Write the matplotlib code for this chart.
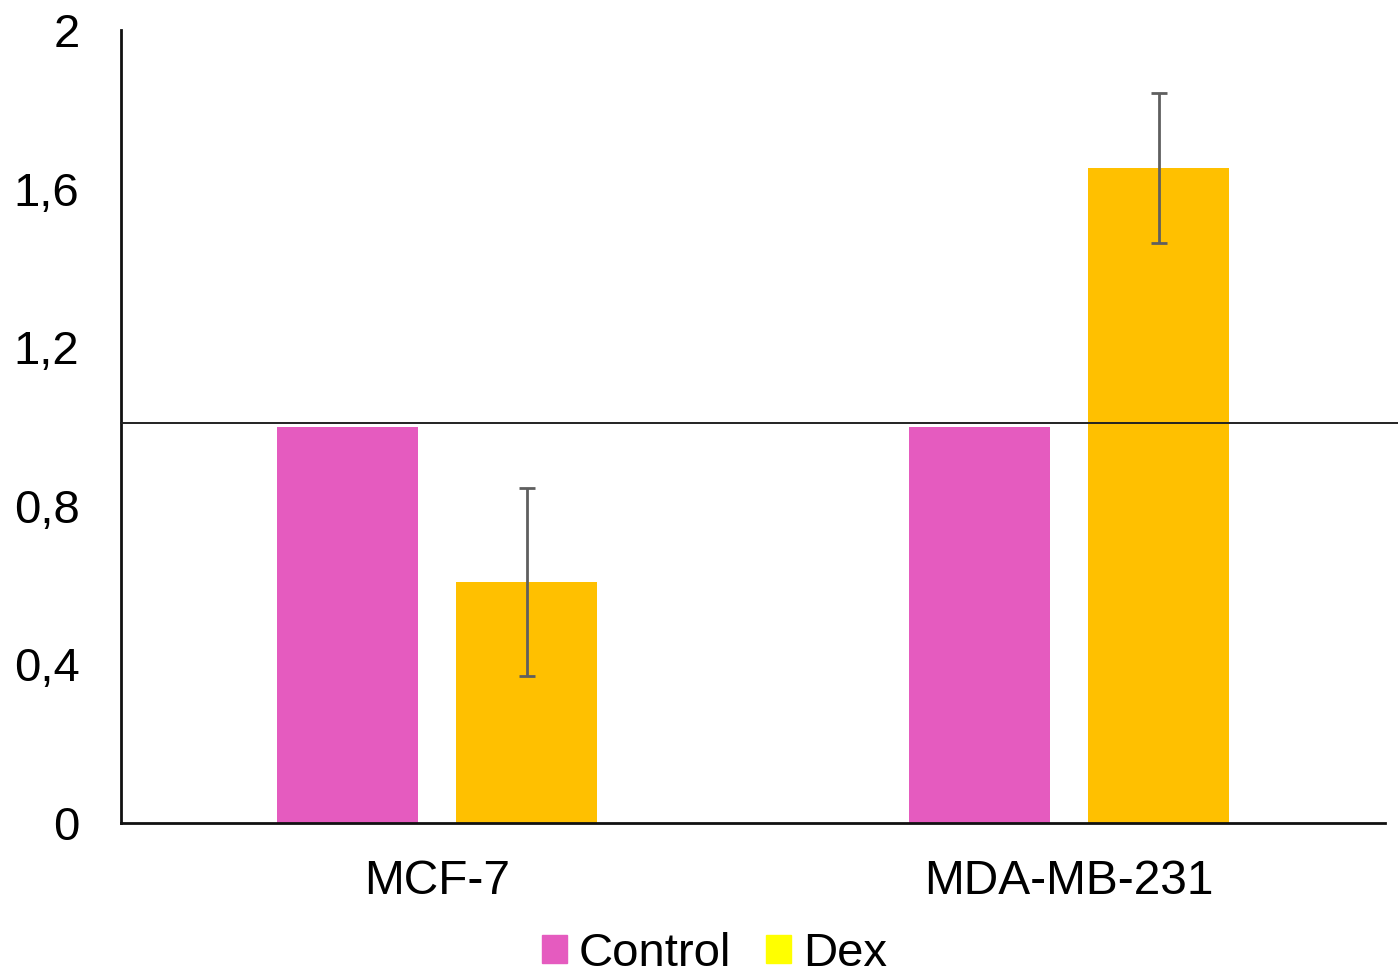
import numpy as np
import matplotlib
matplotlib.use("Agg")
import matplotlib.pyplot as plt
from matplotlib.patches import Patch
import matplotlib.transforms as mtransforms

plt.rcParams['font.family'] = ['Liberation Sans', 'DejaVu Sans']

cell_lines = ["MCF-7", "MDA-MB-231"]
control = [1.0, 1.0]
dex = [0.608, 1.652]
dex_err = [0.237, 0.19]
ref_level = 1.01
y_ticks = [0, 0.4, 0.8, 1.2, 1.6, 2.0]
y_tick_labels = ["0", "0,4", "0,8", "1,2", "1,6", "2"]

pink = "#E55BBF"
orange = "#FFC000"
legend_yellow = "#FFFF00"

fig = plt.figure(figsize=(13.98, 9.77), dpi=100)
ax = fig.add_axes([0.0866, 0.1576, 0.9041, 0.8117])

x = np.arange(len(cell_lines))
w = 0.223
off = 0.142
ax.bar(x - off, control, width=w, color=pink, zorder=2)
ax.bar(x + off, dex, width=w, color=orange, zorder=2)
ax.errorbar(x + off, dex, yerr=dex_err, fmt='none', ecolor="#5f5f5f",
            elinewidth=2, capsize=6, capthick=2, zorder=3)

# reference line, runs out past the right end of the axis
trans = mtransforms.blended_transform_factory(ax.transAxes, ax.transData)
ax.plot([0, 1.02], [ref_level, ref_level], color="#222222", lw=1.4,
        transform=trans, clip_on=False, zorder=4)

ax.set_xlim(-0.5, 1.5)
ax.set_ylim(0, 2)
ax.set_yticks(y_ticks)
ax.set_yticklabels(y_tick_labels)
ax.set_xticks(x)
ax.set_xticklabels(cell_lines)
ax.tick_params(axis='y', length=0, pad=30, labelsize=34)
ax.tick_params(axis='x', length=0, pad=26, labelsize=34.5)

for s in ["top", "right"]:
    ax.spines[s].set_visible(False)
for s in ["left", "bottom"]:
    ax.spines[s].set_linewidth(2)
    ax.spines[s].set_color("#111111")

handles = [Patch(color=pink, label="Control"), Patch(color=legend_yellow, label="Dex")]
fig.legend(handles=handles, loc="lower center", bbox_to_anchor=(0.511, -0.042),
           ncol=2, frameon=False, fontsize=34, handlelength=0.52, handleheight=0.52,
           handletextpad=0.25, columnspacing=0.75)

fig.savefig("out.png", dpi=100)
